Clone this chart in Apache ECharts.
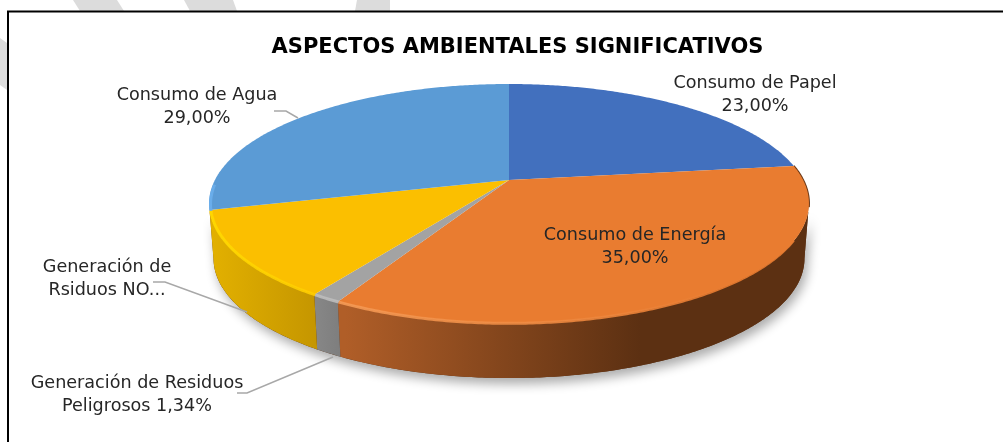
<!DOCTYPE html>
<html><head><meta charset="utf-8">
<style>html,body{margin:0;padding:0;background:#fff}#c{width:1003px;height:442px;filter:blur(0.45px)}</style>
<script src="https://cdn.jsdelivr.net/npm/echarts@6/dist/echarts.min.js"></script>
</head><body><div id="c"></div>
<script>
const categories=['Consumo de Papel','Consumo de Energía','Generación de Residuos Peligrosos','Generación de Rsiduos NO Peligrosos','Consumo de Agua'];
const values=[23,35,1.34,11.66,29];
const labelTexts=['Consumo de Papel\n23,00%','Consumo de Energía\n35,00%','Generación de Residuos\nPeligrosos 1,34%','Generación de\nRsiduos NO...','Consumo de Agua\n29,00%'];
const colors=['#4270be','#e97c30','#a3a3a3','#fbbf00','#5b9bd5'];
const rimStops=[null,[[345,'#f59a55'],[720,'#e97c30']],[[318,'#bdbdbd'],[345,'#bdbdbd']],[[212,'#ffd900'],[320,'#ffcc00']],[[210,'#6cb0ee'],[236,'#5b9bd5']]];
const rimFrac=[0,0.72,1,1,0.12];
const sideStops=[null,[[345,'#b05e28'],[640,'#5c3012']],[[318,'#868686'],[345,'#7c7c7c']],[[212,'#e2b000'],[320,'#c49500']],[[205,'#d9a900'],[215,'#d9a900']]];
const labelPos=[[755,95],[635,247],[137,395],[107,279],[197,107]];
const leaders=[[],[],[[237,393],[247,393],[333,357]],[[153,282],[165,282],[247,312]],[[274,111],[286,111],[298,118]]];

const total=values.reduce((a,b)=>a+b,0);
const HUB=[509,180],A=294.1,B=114.9,K=0.1967,DEPTH=55,SHR=0.985;
function topPt(t){const u=Math.sin(t),v=-Math.cos(t),d=1-K*v;return [HUB[0]+A*u/d,HUB[1]+B*v/d];}
function botPt(t){const p=topPt(t);return [HUB[0]+(p[0]-HUB[0])*SHR,p[1]+DEPTH];}
function arc(f,a,b){const n=Math.max(2,Math.ceil(Math.abs(b-a)/0.01)),o=[];for(let i=0;i<=n;i++)o.push(f(a+(b-a)*i/n));return o;}
const TAU=Math.PI*2;
const SIDE0=Math.acos(-K),SIDE1=TAU-SIDE0;
function angles(i){let s=0;for(let k=0;k<i;k++)s+=values[k];return [s/total*TAU,(s+values[i])/total*TAU];}
function hGrad(st){return new echarts.graphic.LinearGradient(st[0][0],0,st[1][0],0,[{offset:0,color:st[0][1]},{offset:1,color:st[1][1]}],true);}

function renderShadow(){
  const ring=arc(botPt,SIDE0,SIDE1);
  return {type:'polygon',shape:{points:ring.concat(arc(topPt,SIDE1,SIDE0))},style:{fill:'#5c3012',shadowBlur:11,shadowColor:'rgba(0,0,0,0.33)',shadowOffsetY:6,shadowOffsetX:3},silent:true};
}
function renderSlice(params,api){
  const i=params.dataIndex,[a,b]=angles(i),children=[];
  const lo=Math.max(a,SIDE0),hi=Math.min(b,SIDE1);
  if(hi>lo&&sideStops[i]){
    children.push({type:'polygon',shape:{points:arc(topPt,lo,hi).concat(arc(botPt,hi,lo))},style:{fill:hGrad(sideStops[i])}});
  }
  if(i===1){
    children.push({type:'polyline',shape:{points:arc(topPt,a,SIDE0+0.03)},style:{stroke:'#6b3816',lineWidth:2,fill:'none'}});
  }
  children.push({type:'polygon',shape:{points:[HUB].concat(arc(topPt,a,b))},style:{fill:colors[i]}});
  if(rimStops[i]){
    const inset=t=>{const p=topPt(t);return [HUB[0]+(p[0]-HUB[0])*0.995,HUB[1]+(p[1]-HUB[1])*0.995+1];};
    const from=i===1?b-(b-a)*rimFrac[i]:a;
    const to=i===1?b:a+(b-a)*rimFrac[i];
    children.push({type:'polyline',shape:{points:arc(inset,from,to)},style:{stroke:hGrad(rimStops[i]),lineWidth:3,fill:'none',opacity:0.9}});
  }
  if(leaders[i].length)children.push({type:'polyline',shape:{points:leaders[i]},style:{stroke:'#a8a8a8',lineWidth:1.5,fill:'none'}});
  children.push({type:'text',x:labelPos[i][0],y:labelPos[i][1],z2:50,style:{text:labelTexts[i],fill:'#262626',font:'17.6px "DejaVu Sans"',align:'center',verticalAlign:'middle',lineHeight:22.5}});
  return {type:'group',children:children};
}
const chart=echarts.init(document.getElementById('c'),null,{renderer:'canvas'});
chart.setOption({
  animation:false,
  backgroundColor:'#fff',
  title:{text:'ASPECTOS AMBIENTALES SIGNIFICATIVOS',left:512.5,top:32,textAlign:'center',textStyle:{fontFamily:'"DejaVu Sans"',fontWeight:'bold',fontSize:21,color:'#000'}},
  graphic:[
    {type:'polygon',silent:true,shape:{points:[[73,0],[117,0],[124,11],[80,11]]},style:{fill:'#dcdcdc'}},
    {type:'polygon',silent:true,shape:{points:[[184,0],[233,0],[237,11],[190,11]]},style:{fill:'#dcdcdc'}},
    {type:'polygon',silent:true,shape:{points:[[357,0],[390,0],[390,11],[355,11]]},style:{fill:'#dcdcdc'}},
    {type:'polygon',silent:true,shape:{points:[[0,38],[7,43],[7,90],[0,85]]},style:{fill:'#dcdcdc'}},
    {type:'polyline',silent:true,shape:{points:[[8,442],[8,11.5],[1003,11.5]]},style:{stroke:'#000',lineWidth:2,fill:'none'}}
  ],
  series:[
    {type:'custom',coordinateSystem:'none',silent:true,z:1,data:[0],renderItem:renderShadow},
    {type:'custom',coordinateSystem:'none',silent:true,z:2,data:categories.map((n,i)=>({name:n,value:values[i]})),renderItem:renderSlice}
  ]
});
</script></body></html>
